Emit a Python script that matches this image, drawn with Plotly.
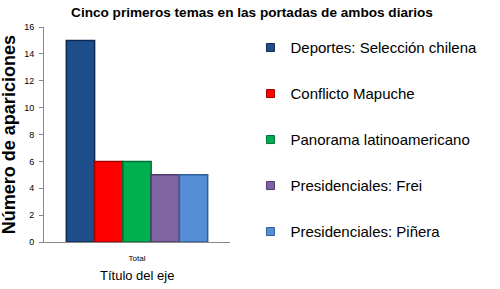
import plotly.graph_objects as go

categories = ["Total"]
series_names = ["Deportes: Selección chilena", "Conflicto Mapuche", "Panorama latinoamericano",
                "Presidenciales: Frei", "Presidenciales: Piñera"]
series_values = [15, 6, 6, 5, 5]
colors = ["#1F4E8C", "#FF0000", "#00B050", "#8064A2", "#558ED5"]
edge_colors = ["#0F2A50", "#A00000", "#007035", "#513C6E", "#2F5F9A"]
y_ticks = [0, 2, 4, 6, 8, 10, 12, 14, 16]

FONT = "Liberation Sans, Arial, sans-serif"

fig = go.Figure()
for i, (name, v) in enumerate(zip(series_names, series_values)):
    fig.add_trace(go.Bar(
        x=categories, y=[v], name=name,
        marker=dict(color=colors[i], line=dict(color=edge_colors[i], width=1.5)),
        showlegend=False,
    ))
for i, name in enumerate(series_names):
    fig.add_trace(go.Scatter(
        x=[None], y=[None], mode="markers", name=name,
        marker=dict(symbol="square", size=8, color=colors[i],
                    line=dict(color=edge_colors[i], width=1)),
        legendgroup=f"g{i}", showlegend=True,
    ))

fig.update_layout(
    width=500, height=289,
    margin=dict(l=44, r=270, t=27, b=47),
    paper_bgcolor="white", plot_bgcolor="white",
    barmode="group", bargap=0.24, bargroupgap=0,
    font=dict(family=FONT, color="black"),
    title=dict(text="<b>Cinco primeros temas en las portadas de ambos diarios</b>",
               font=dict(size=13.6, family=FONT, color="black"),
               x=0.504, xanchor="center", y=0.958, yanchor="middle"),
    showlegend=True,
    legend=dict(x=1.11, xanchor="left", y=0.98, yanchor="top",
                font=dict(size=15, family=FONT, color="black"),
                tracegroupgap=23.5, itemwidth=30, bgcolor="rgba(0,0,0,0)", maxheight=285),
    xaxis=dict(showline=True, linecolor="#888888", linewidth=1, automargin=False,
               tickfont=dict(size=8, family=FONT, color="black"),
               ticks="", ticklen=0, ticklabelstandoff=8),
    yaxis=dict(range=[0, 16], tickvals=y_ticks, showline=True, linecolor="#888888", linewidth=1,
               ticks="outside", ticklen=4, tickcolor="#888888", automargin=False,
               showgrid=False, zeroline=False, ticklabelstandoff=3,
               tickfont=dict(size=9, family=FONT, color="black")),
    annotations=[
        dict(text="Título del eje", xref="paper", yref="paper", x=0.5, y=-0.155,
             xanchor="center", yanchor="middle", showarrow=False,
             font=dict(size=13, family=FONT, color="black")),
        dict(text="<b>Número de apariciones</b>", xref="paper", yref="paper",
             x=-0.19, y=0.5, xanchor="center", yanchor="middle", textangle=-90,
             showarrow=False, font=dict(size=18, family=FONT, color="black")),
    ],
)

fig.write_html("out.html")
